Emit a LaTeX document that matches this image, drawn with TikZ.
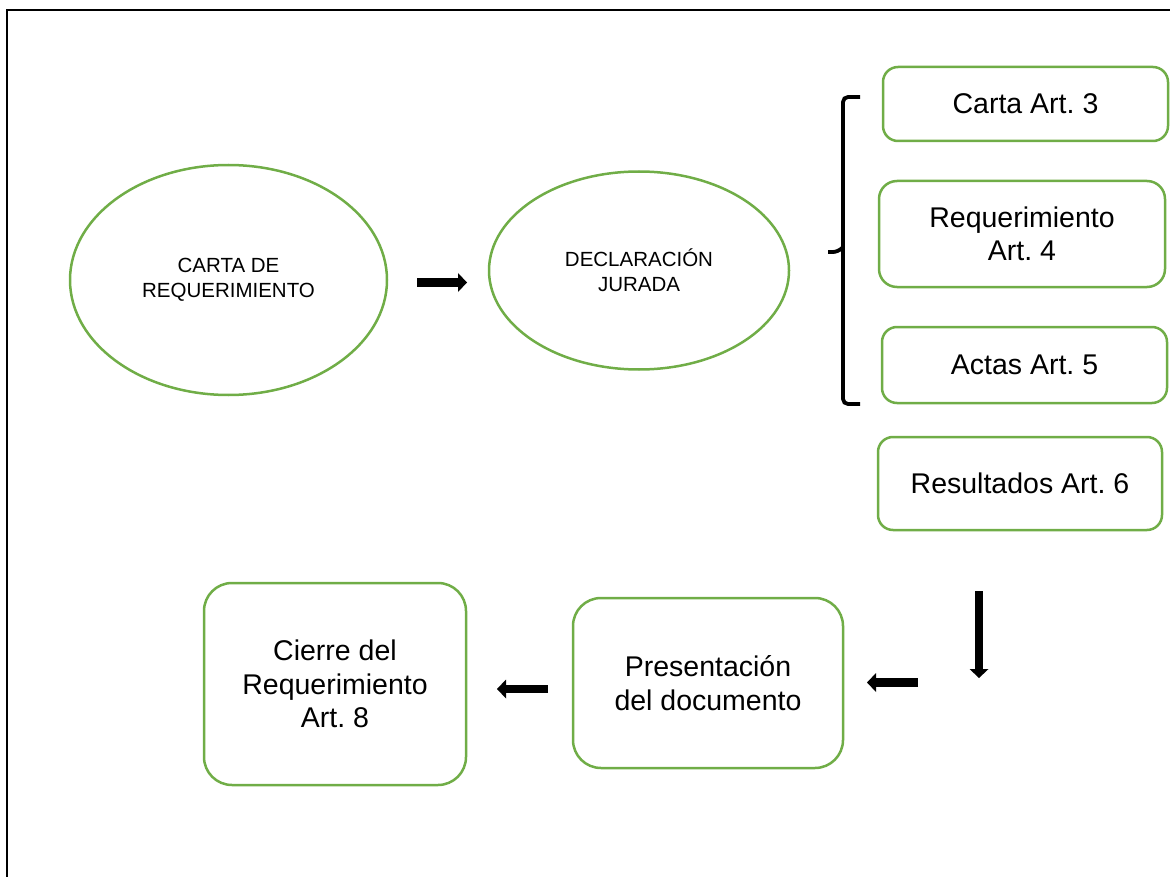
\documentclass[tikz,border=0pt]{standalone}
\usepackage{fontspec}
\setmainfont{Liberation Sans}
\usetikzlibrary{shapes.geometric,arrows.meta}
\definecolor{grn}{HTML}{70AD47}
\frenchspacing
\begin{document}
\begin{tikzpicture}[x=1pt,y=-1pt,
  oval/.style={draw=grn, line width=2.5pt, ellipse, inner sep=0pt, align=center,
    font=\fontsize{20.5}{25}\selectfont},
  sbox/.style={draw=grn, line width=2.5pt, rounded corners=15pt, inner sep=0pt, align=center,
    font=\fontsize{28.5}{33.5}\selectfont},
  bbox/.style={sbox, rounded corners=28pt},
  blk/.style={line width=8.5pt, -{Triangle[length=9pt,width=19pt,line width=0pt]}},
  brace/.style={line width=3.8pt, rounded corners=5pt}]
\useasboundingbox (0,0) rectangle (1172,877);
% frame
\draw[line width=2.3pt] (7,877) -- (7,10) -- (1170,10);
% ellipses
\node[oval, minimum width=317pt, minimum height=230pt] (carta) at (228.5,280) {CARTA DE\\REQUERIMIENTO};
\node[oval, minimum width=300pt, minimum height=198pt] (decl) at (639,270.5) {DECLARACIÓN\\JURADA};
% right boxes
\node[sbox, minimum width=285pt, minimum height=74pt] (a3) at (1025.5,104) {Carta Art. 3};
\node[sbox, minimum width=286pt, minimum height=106pt, rounded corners=18pt] (a4) at (1022,234) {Requerimiento\\Art. 4};
\node[sbox, minimum width=285pt, minimum height=76pt] (a5) at (1024.5,365) {Actas Art. 5};
\node[sbox, minimum width=284pt, minimum height=93pt] (a6) at (1020,483.5) {Resultados Art. 6};
% bottom boxes
\node[bbox, minimum width=270pt, minimum height=170pt] (pres) at (708,683) {Presentación\\del documento};
\node[bbox, minimum width=262pt, minimum height=202pt] (cierre) at (335,684) {Cierre del\\Requerimiento\\Art. 8};
% brace
\coordinate (bt) at (860,97);
\coordinate (bb) at (860,404);
\coordinate (bm) at (828,252);
\draw[brace] (bt) -- (843,97) -- (843,404) -- (bb);
\draw[brace] (bm) -- (838,252) -- (843,247);
% arrows
\coordinate (r1s) at (417,282.5);
\coordinate (r1e) at (467,282.5);
\coordinate (dns) at (979,591);
\coordinate (dne) at (979,678);
\coordinate (l1s) at (918,682.5);
\coordinate (l1e) at (867,682.5);
\coordinate (l2s) at (548,689);
\coordinate (l2e) at (497,689);
\draw[blk] (r1s) -- (r1e);
\draw[blk] (dns) -- (dne);
\draw[blk] (l1s) -- (l1e);
\draw[blk] (l2s) -- (l2e);
\end{tikzpicture}
\end{document}
